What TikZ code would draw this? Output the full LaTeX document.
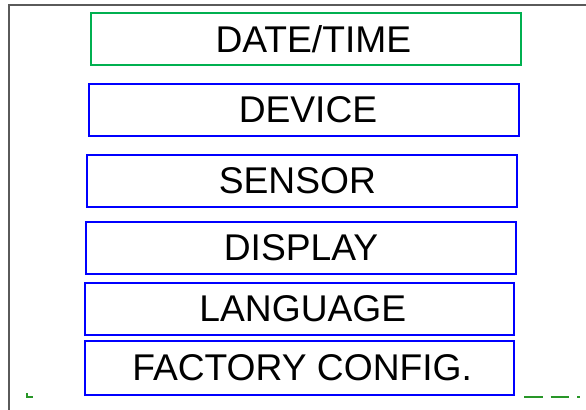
\documentclass[tikz,border=0pt]{standalone}
\usepackage{fontspec}
\setmainfont{Liberation Sans}
\usetikzlibrary{positioning}

\definecolor{menugreen}{RGB}{0,176,80}
\definecolor{menublue}{RGB}{0,0,255}
\definecolor{framegray}{RGB}{90,90,90}
\definecolor{dashgreen}{RGB}{40,150,40}

\begin{document}
\begin{tikzpicture}[
  x=0.75pt, y=-0.75pt,
  font=\fontsize{27.9}{32}\selectfont,
  item/.style={draw=menublue, line width=1.5pt, minimum width=322pt, minimum height=39pt, inner sep=0pt, fill=white},
  active/.style={item, draw=menugreen},
  nudge/.style={execute at begin node={\hspace*{#1}}},
  edge/.style={draw=framegray, line width=1.5pt},
  hint/.style={draw=dashgreen, line width=1.2pt}
]
\useasboundingbox (0,0) rectangle (586,410);

% screen frame
\draw[edge] (9,410) -- (9,5) -- (586,5);

% partly hidden marker line
\draw[hint] (27,393) -- (27,397) -- (33,397);
\draw[hint, dash pattern=on 14pt off 6pt] (524,397) -- (580,397);

% menu entries
\node[active, nudge=11pt] (datetime) at (306,39) {DATE/TIME};
\node[item, nudge=6pt] (device) at (304,110) {DEVICE};
\node[item, nudge=-7pt] (sensor) at (302,181) {SENSOR};
\node[item] (display) at (301,248) {DISPLAY};
\node[item, nudge=5pt] (language) at (299.5,309) {LANGUAGE};
\node[item, nudge=4pt, minimum height=40.5pt] (factory) at (299.5,368) {FACTORY CONFIG.};

\end{tikzpicture}
\end{document}
